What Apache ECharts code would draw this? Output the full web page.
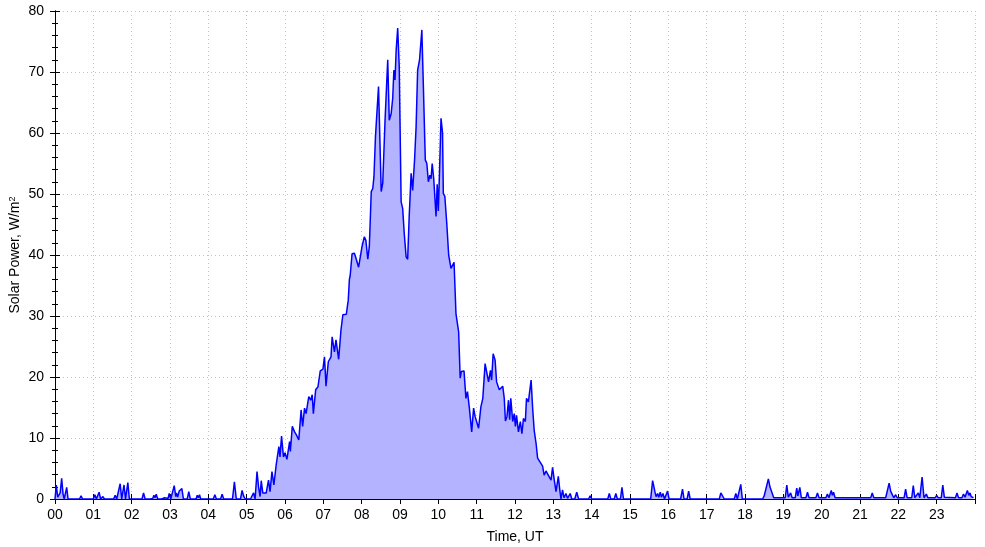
<!DOCTYPE html>
<html>
<head>
<meta charset="utf-8">
<title>Solar Power</title>
<script src="https://cdn.jsdelivr.net/npm/echarts@6/dist/echarts.min.js"></script>
<style>
  html, body { margin: 0; padding: 0; background: #fff; }
  #chart { width: 985px; height: 547px; }
</style>
</head>
<body>
<div id="chart"></div>
<script>
// hour tick labels
var hourLabels = ['00','01','02','03','04','05','06','07','08','09','10','11',
                  '12','13','14','15','16','17','18','19','20','21','22','23'];

// [time in hours UT, solar power W/m2]
var earlyHours = [
  [0.00,0],[0.034,2.3],[0.07,0.3],[0.10,0],[0.135,1.0],[0.174,3.4],[0.21,0.8],[0.24,0],[0.27,0.2],[0.305,1.9],[0.34,0],
  [0.64,0],[0.68,0.5],[0.72,0],[1.0,0],[1.04,0.7],[1.08,0],[1.11,0.2],[1.15,1.1],[1.19,0],[1.25,0.4],[1.29,0],[1.33,0.2],[1.36,0],
  [1.53,0],[1.57,0.6],[1.61,0],[1.66,0],[1.70,2.5],[1.74,0],[1.76,0],[1.80,2.3],[1.84,0],[1.86,0],[1.90,2.7],[1.94,0],
  [2.27,0],[2.31,1.0],[2.35,0],[2.48,0],[2.51,0.3],[2.55,0.1],[2.58,0.6],[2.61,0.2],[2.64,0.8],[2.68,0],
  [2.78,0],[2.82,0.3],[2.86,0.2],[2.91,0.3],[2.95,0.1],[2.98,0.9],[3.02,0],[3.07,0],[3.11,2.2],[3.15,0.4],[3.17,1.0],
  [3.20,0.3],[3.24,1.3],[3.31,1.7],[3.35,0],[3.45,0],[3.49,1.2],[3.53,0],[3.68,0],[3.71,0.6],[3.74,0.2],[3.77,0.7],
  [3.80,0],[3.85,0.3],[3.88,0],[4.13,0],[4.17,0.7],[4.21,0],[4.32,0],[4.36,0.8],[4.40,0],[4.63,0],[4.68,2.8],[4.73,0],
  [4.84,0],[4.88,1.4],[4.92,0.5],[4.96,0]
];

var daytime = [
  [5.10,0],[5.15,0.3],[5.18,1.0],[5.22,0],[5.25,0],[5.27,4.5],[5.31,2.0],[5.35,0.4],[5.38,3.0],[5.42,1.0],[5.47,1.2],
  [5.51,1.0],[5.57,3.1],[5.61,1.2],[5.66,4.5],[5.71,2.3],[5.77,5.6],[5.81,5.8],[5.84,8.6],[5.87,6.9],[5.91,10.3],
  [5.96,6.9],[6.00,7.6],[6.05,6.5],[6.12,9.4],[6.14,7.8],[6.19,11.9],[6.25,11.0],[6.29,10.6],[6.33,10.9],[6.36,9.7],
  [6.42,14.6],[6.46,11.9],[6.51,14.9],[6.55,14.0],[6.62,16.8],[6.67,16.2],[6.71,17.1],[6.74,14.0],[6.80,17.9],
  [6.86,18.4],[6.92,21.0],[6.99,21.3],[7.03,23.3],[7.07,18.5],[7.13,22.5],[7.20,23.3],[7.23,26.6],[7.29,24.1],
  [7.33,26.1],[7.38,26.2],[7.40,22.9],[7.46,27.7],[7.51,30.2],[7.55,30.0],[7.60,30.3],[7.65,32.6],[7.68,36.0],
  [7.70,36.6],[7.75,40.2],[7.81,40.3],[7.85,39.5],[7.88,39.8],[7.92,38.0],[7.95,38.2],[8.01,41.4],[8.07,43.0],
  [8.11,42.4],[8.16,39.3],[8.20,41.4],[8.25,50.4],[8.29,50.9],[8.32,52.8],[8.36,59.4],[8.44,67.6],[8.51,50.4],
  [8.55,51.8],[8.61,62.1],[8.68,72.0],[8.72,62.1],[8.77,63.2],[8.81,65.7],[8.84,70.3],[8.87,68.7],[8.90,73.6],
  [8.94,77.2],[8.98,70.9],[9.03,48.7],[9.07,47.6],[9.11,43.6],[9.16,39.7],[9.20,39.3],[9.24,46.3],[9.29,53.4],
  [9.33,50.6],[9.38,55.6],[9.42,61.0],[9.46,70.3],[9.51,72.0],[9.57,76.9],[9.61,67.6],[9.66,55.6],[9.70,55.0],
  [9.74,52.0],[9.78,53.1],[9.81,52.5],[9.84,55.0],[9.88,52.5],[9.91,52.8],[9.94,46.3],[9.97,51.6],[10.00,47.2],
  [10.03,53.4],[10.07,62.4],[10.11,60.0],[10.13,50.1],[10.17,49.6],[10.22,45.2],[10.27,40.0],[10.33,37.8],
  [10.37,37.8],[10.41,38.8],[10.46,30.4],[10.53,27.4],[10.57,19.8],[10.60,20.9],[10.67,21.0],[10.72,16.5],
  [10.76,17.6],[10.81,14.9],[10.87,11.0],[10.92,14.9],[10.96,13.5],[11.01,13.7],[11.05,11.6],[11.11,15.1],
  [11.16,16.5],[11.22,22.2],[11.26,22.0],[11.31,19.2],[11.36,21.1],[11.39,19.5],[11.43,23.8],[11.48,22.8],
  [11.52,19.2],[11.56,19.5],[11.59,17.9],[11.68,18.5],[11.72,16.5],[11.75,12.8],[11.79,13.5],[11.83,16.2],
  [11.86,13.0],[11.89,16.5],[11.94,12.7],[11.98,14.0],[12.01,11.9],[12.04,13.7],[12.09,11.0],[12.14,12.7],
  [12.18,10.7],[12.22,13.2],[12.27,12.7],[12.30,16.5],[12.35,15.9],[12.37,17.0],[12.42,19.5],[12.46,14.9],
  [12.50,11.3],[12.55,9.1],[12.59,6.7],[12.63,6.3],[12.68,5.8],[12.72,5.4],[12.76,3.9],[12.81,4.6],[12.85,4.1],
  [12.89,3.9],[12.94,3.1],[12.98,5.2],[13.02,3.3],[13.07,1.2],[13.13,3.7],[13.17,1.4],[13.20,0],[13.24,1.5],
  [13.28,0.2],[13.33,0.9],[13.37,0.1],[13.44,0.9],[13.48,0],[13.56,0],[13.61,1.1],[13.66,0],[13.92,0],[13.96,0.5],[14.00,0]
];

var lateHours = [
  [14.42,0],[14.46,0.9],[14.50,0],[14.59,0],[14.63,0.9],[14.67,0],[14.75,0],[14.79,1.9],[14.83,0],[15.54,0],[15.59,3.0],
  [15.65,1.2],[15.68,0.4],[15.72,0.9],[15.75,0.3],[15.79,1.1],[15.82,0.3],[15.86,0.9],[15.90,0],[15.94,0],[15.98,1.3],
  [16.02,0],[16.32,0],[16.37,1.6],[16.41,0],[16.49,0],[16.53,1.3],[16.57,0],[17.33,0],[17.37,1.0],[17.42,0.7],[17.46,0],
  [17.72,0],[17.76,0.9],[17.80,0],[17.85,0],[17.89,2.4],[17.93,0],[18.46,0],[18.50,0.5],[18.54,0.2],[18.61,3.3],
  [18.65,2.0],[18.70,1.7],[18.75,0.2],[19.05,0.2],[19.09,2.3],[19.13,0.3],[19.19,1.0],[19.23,0.2],[19.31,0.2],[19.35,1.8],
  [19.38,0.5],[19.43,1.9],[19.47,0.2],[19.59,0.2],[19.63,1.1],[19.67,0.2],[19.85,0.2],[19.89,1.0],[19.93,0.2],[20.11,0.2],
  [20.15,0.8],[20.19,0.2],[20.25,1.4],[20.28,0.6],[20.31,1.1],[20.35,0.2],[21.28,0.2],[21.32,1.0],[21.36,0.2],[21.59,0.2],
  [21.63,0.5],[21.67,0.2],[21.76,2.6],[21.80,1.3],[21.84,1.1],[21.88,0.2],[21.93,0.7],[21.97,0.2],[22.15,0.2],[22.19,1.6],
  [22.23,0.2],[22.35,0.2],[22.39,2.2],[22.43,0.2],[22.48,0.2],[22.52,1.0],[22.56,0.2],[22.62,3.6],[22.67,0.2],[22.73,0.8],
  [22.77,0.2],[22.96,0.2],[23.0,0.6],[23.04,0.2],[23.12,0.2],[23.16,2.3],[23.20,0.3],[23.24,0.2],[23.49,0.2],[23.53,1.0],
  [23.57,0.2],[23.66,0.2],[23.70,0.8],[23.74,0.3],[23.80,1.4],[23.84,0.6],[23.87,1.0],[23.90,0.4],[23.93,0.7],[23.96,0.2]
];

var power = earlyHours.concat(daytime, lateHours);

var font = 'Liberation Sans, Arial, sans-serif';
var gridLine = { show: true, lineStyle: { color: '#c4c4c4', type: [1, 3], width: 1 } };
var blackLine = { show: true, lineStyle: { color: '#000', width: 1 } };

var myChart = echarts.init(document.getElementById('chart'));
var option = {
  animation: false,
  backgroundColor: '#fff',
  grid: { left: 55, right: 10, top: 11, bottom: 48, outerBoundsMode: 'none' },
  xAxis: [
    {
      type: 'value', min: 0, max: 24, interval: 1,
      name: 'Time, UT', nameLocation: 'middle', nameGap: 31,
      nameTextStyle: { fontFamily: font, fontSize: 14, color: '#000' },
      axisLine: blackLine,
      axisTick: { show: true, length: 5, lineStyle: { color: '#000' } },
      axisLabel: {
        fontFamily: font, fontSize: 14, color: '#000', margin: 9,
        formatter: function (v) { return hourLabels[v] !== undefined ? hourLabels[v] : ''; }
      },
      splitLine: gridLine
    },
    {
      type: 'value', min: 0, max: 24, interval: 1, position: 'top',
      axisLine: blackLine,
      axisTick: { show: true, length: 5, lineStyle: { color: '#000' } },
      axisLabel: { show: false },
      splitLine: { show: false }
    }
  ],
  yAxis: [
    {
      type: 'value', min: 0, max: 80, interval: 10,
      name: 'Solar Power, W/m{sup|2}', nameLocation: 'middle', nameGap: 32,
      nameMoveOverlap: false,
      nameTextStyle: {
        fontFamily: font, fontSize: 14, color: '#000',
        rich: { sup: { fontFamily: font, fontSize: 9, color: '#000', verticalAlign: 'top', padding: [0, 0, 6, 0] } }
      },
      axisLine: blackLine,
      axisTick: { show: true, length: 5, lineStyle: { color: '#000' } },
      minorTick: { show: true, splitNumber: 5, length: 3, lineStyle: { color: '#000' } },
      axisLabel: { fontFamily: font, fontSize: 14, color: '#000', margin: 11 },
      splitLine: gridLine
    },
    {
      type: 'value', min: 0, max: 80, interval: 10, position: 'right',
      axisLine: blackLine,
      axisTick: { show: true, length: 5, lineStyle: { color: '#000' } },
      minorTick: { show: true, splitNumber: 5, length: 3, lineStyle: { color: '#000' } },
      axisLabel: { show: false },
      splitLine: { show: false }
    }
  ],
  series: [
    {
      type: 'line',
      xAxisIndex: 0,
      yAxisIndex: 0,
      data: power,
      showSymbol: false,
      sampling: null,
      lineStyle: { color: '#0000ff', width: 1.5 },
      areaStyle: { color: '#b3b3ff', opacity: 1 }
    }
  ]
};
myChart.setOption(option);
</script>
</body>
</html>
